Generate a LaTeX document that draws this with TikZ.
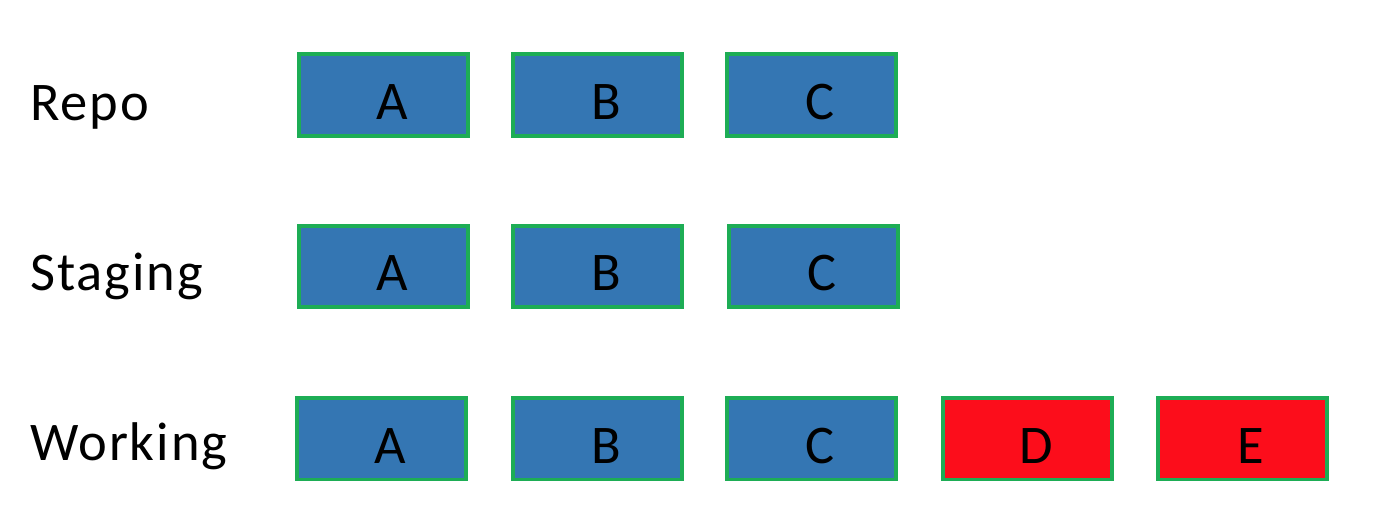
\documentclass[tikz,border=0pt]{standalone}
\usepackage{fontspec}
\setmainfont{Carlito}
\usetikzlibrary{positioning}
\definecolor{BoxBlue}{HTML}{3476B3}
\definecolor{BoxRed}{HTML}{FC0D1B}
\definecolor{BoxEdge}{HTML}{1DAD55}

\begin{document}
\begin{tikzpicture}[x=0.02cm, y=-0.02cm,
    every node/.style={font=\fontsize{31}{36}\selectfont},
    commit/.style={draw=BoxEdge, line width=0.08cm, fill=BoxBlue, minimum width=3.38cm, minimum height=1.64cm, inner sep=0pt,
        text height=0.98cm, text depth=0pt, execute at begin node={\hspace*{0.36cm}}},
    newfile/.style={commit, fill=BoxRed},
    area/.style={anchor=base west, inner sep=0pt, font=\fontsize{31}{36}\selectfont\addfontfeature{LetterSpace=3.5}}]
    \useasboundingbox (0,0) rectangle (1378,524);

    % area labels
    \node[area] (repo) at (30,120) {Repo};
    \node[area] (staging) at (30,290) {Staging};
    \node[area] (working) at (30,460) {Working};

    % repository
    \node[commit] (rA) at (383.5,95) {A};
    \node[commit] (rB) at (597.5,95) {B};
    \node[commit] (rC) at (811.5,95) {C};

    % staging area
    \node[commit] (sA) at (383.5,266.5) {A};
    \node[commit] (sB) at (597.5,266.5) {B};
    \node[commit] (sC) at (813.5,266.5) {C};

    % working tree
    \node[commit] (wA) at (381.5,438.5) {A};
    \node[commit] (wB) at (597.5,438.5) {B};
    \node[commit] (wC) at (811.5,438.5) {C};
    \node[newfile] (wD) at (1027,438.5) {D};
    \node[newfile] (wE) at (1242,438.5) {E};
\end{tikzpicture}
\end{document}
